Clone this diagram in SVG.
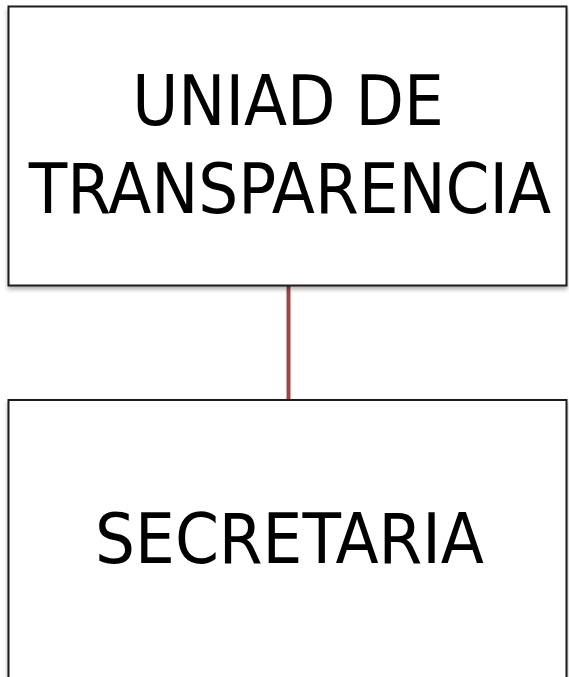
<svg xmlns="http://www.w3.org/2000/svg" width="569" height="677" viewBox="0 0 569 677">
<defs>
<filter id="sh" x="-5%" y="-5%" width="110%" height="115%">
<feDropShadow dx="0" dy="3" stdDeviation="2" flood-color="#000" flood-opacity="0.3"/>
</filter>
</defs>
<style>
.box{fill:#ffffff;stroke:#1a1a1a;stroke-width:2;filter:url(#sh)}
.lbl{font-family:"DejaVu Sans Condensed","DejaVu Sans",sans-serif;font-stretch:condensed;font-size:70px;fill:#000;text-anchor:middle}
.conn{stroke:#a04444;stroke-width:4;fill:none}
</style>
<rect width="569" height="677" fill="#ffffff"/>
<g id="connectors">
<line class="conn" x1="288.5" y1="286" x2="288.5" y2="400"/>
</g>
<g id="node-unidad">
<rect class="box" x="8.5" y="6.5" width="558" height="279"/>
<text class="lbl" x="288" y="125">UNIAD DE</text>
<text class="lbl" x="290" y="213">TRANSPARENCIA</text>
</g>
<g id="node-secretaria">
<rect class="box" x="8.5" y="400" width="558" height="300"/>
<text class="lbl" x="289.5" y="563">SECRETARIA</text>
</g>
</svg>
